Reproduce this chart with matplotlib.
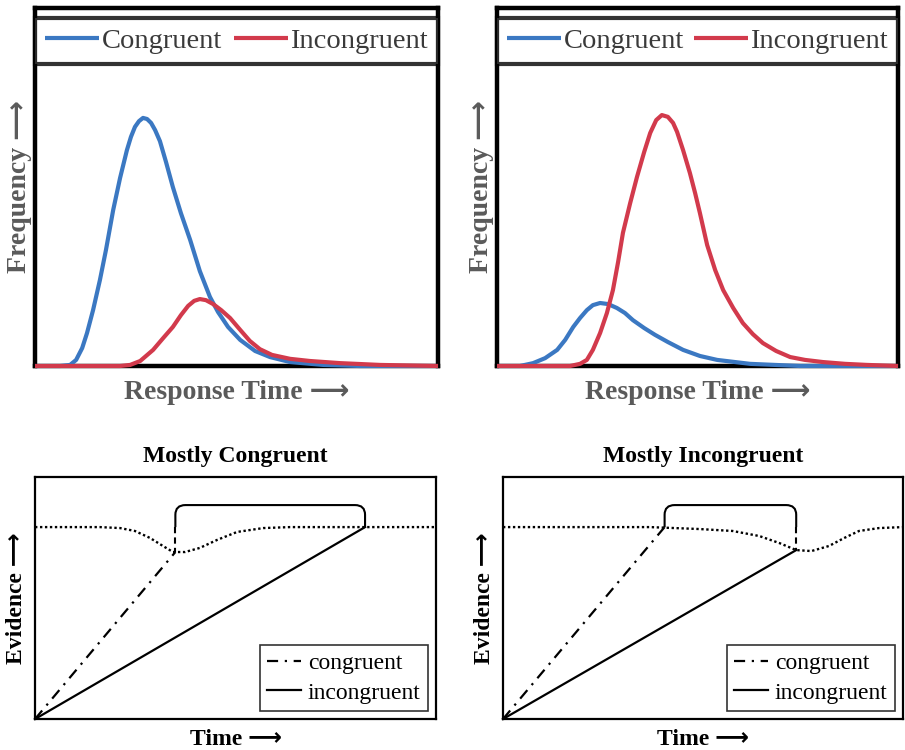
import numpy as np
import matplotlib.pyplot as plt
from matplotlib.path import Path
from matplotlib.patches import PathPatch

# --- data (arbitrary units 0..100) ---
# top-left: mostly congruent RT distributions
tl_cong_x = [0, 6.2, 8.7, 10.2, 11.7, 12.9, 14.4, 16.1, 17.6, 19.4, 21.1, 22.8, 23.8, 24.8, 25.8, 26.8,
             27.8, 28.8, 29.8, 31.0, 32.5, 34.2, 36.2, 38.5, 40.9, 43.4, 45.4, 47.9, 50.9, 54.6, 58.3,
             63.3, 71.5, 80.6, 100]
tl_cong_y = [0, 0, 0.3, 1.7, 5.0, 9.2, 15.6, 24.0, 32.4, 43.6, 52.5, 60.3, 64.0, 66.8, 68.4, 69.3,
             69.0, 67.9, 65.9, 62.8, 57.0, 50.0, 42.7, 35.2, 26.5, 19.3, 15.1, 10.9, 7.3, 4.2, 2.5,
             1.1, 0.3, 0, 0]
tl_inc_x = [0, 21.1, 23.6, 26.1, 29.3, 31.8, 34.2, 36.2, 38.0, 39.5, 40.9, 42.4, 44.2, 46.2, 48.4,
            50.9, 53.3, 55.8, 58.8, 63.3, 68.2, 75.7, 85.6, 100]
tl_inc_y = [0, 0, 0.3, 1.4, 4.5, 7.8, 10.9, 14.2, 16.8, 18.2, 18.7, 18.4, 17.3, 15.6, 13.4,
            10.1, 7.0, 4.7, 3.1, 2.0, 1.4, 0.8, 0.3, 0]

# top-right: mostly incongruent RT distributions
tr_cong_x = [0, 5.7, 9.0, 12.0, 15.0, 17.0, 19.0, 20.7, 22.4, 23.9, 25.7, 27.7, 29.9, 31.9, 33.9,
             36.7, 39.4, 42.6, 46.4, 50.6, 54.9, 63.1, 75.6, 100]
tr_cong_y = [0, 0, 0.8, 2.2, 4.5, 7.3, 10.9, 13.4, 15.6, 17.0, 17.6, 17.3, 16.2, 14.8, 12.8,
             10.6, 8.7, 6.7, 4.5, 2.8, 1.7, 0.6, 0, 0]
tr_inc_x = [0, 18.2, 20.7, 22.4, 23.9, 25.7, 27.4, 28.9, 30.2, 31.4, 33.2, 34.9, 36.7, 38.2, 39.7,
            41.1, 42.6, 43.9, 44.9, 46.4, 48.1, 49.4, 50.6, 52.4, 54.4, 56.4, 58.9, 61.3, 63.8,
            66.3, 69.6, 73.1, 76.8, 81.3, 86.8, 92.3, 100]
tr_inc_y = [0, 0, 0.6, 1.7, 4.5, 9.2, 14.8, 21.2, 29.1, 37.2, 45.5, 52.8, 59.8, 65.1, 68.7,
            70.1, 69.6, 67.9, 65.4, 60.3, 53.9, 48.3, 42.7, 33.8, 26.8, 21.2, 16.2, 12.0, 8.9,
            6.4, 4.2, 2.5, 1.7, 1.1, 0.6, 0.3, 0]

# bottom: accumulator sketches
bl_thr_x = [0, 16.2, 21.2, 24.9, 28.7, 31.9, 34.4, 37.4, 41.1, 45.4, 50.4, 56.9, 63.6, 100]
bl_thr_y = [79.3, 79.3, 78.9, 77.7, 74.8, 71.5, 69.0, 69.0, 70.7, 74.0, 77.3, 78.9, 79.3, 79.3]
bl_cong = ([0, 35.0], [0, 69.0])
bl_inc = ([0, 82.3], [0, 79.3])

br_thr_x = [0, 36.7, 49.1, 57.4, 64.1, 69.1, 73.3, 77.1, 81.5, 85.3, 89.0, 94.0, 100]
br_thr_y = [79.3, 79.3, 78.5, 77.7, 75.6, 72.7, 69.8, 69.4, 71.5, 74.8, 77.7, 78.9, 79.3]
br_cong = ([0, 40.4], [0, 79.3])
br_inc = ([0, 73.3], [0, 69.8])

threshold = 79.3
bracket_top = 88.4

blue = '#3b78c2'
red = '#d23a4c'
gray = '#5a5a5a'
serif = ['Liberation Serif', 'DejaVu Sans']
arrow = '\u27f6'

plt.rcParams['font.family'] = serif

fig = plt.figure(figsize=(9.05, 7.5), dpi=100)
ax_tl = fig.add_axes([0.0387, 0.512, 0.4453, 0.4773])
ax_tr = fig.add_axes([0.5492, 0.512, 0.4431, 0.4773])
ax_bl = fig.add_axes([0.0387, 0.0413, 0.4431, 0.3227])
ax_br = fig.add_axes([0.5558, 0.0413, 0.4420, 0.3227])


def dist_panel(ax, cx, cy, ix, iy):
    ax.plot(cx, cy, color=blue, lw=3, label='Congruent', zorder=3, clip_on=False,
            solid_joinstyle='round', solid_capstyle='butt')
    ax.plot(ix, iy, color=red, lw=3, label='Incongruent', zorder=3, clip_on=False,
            solid_joinstyle='round', solid_capstyle='butt')
    ax.set_xlim(0, 100)
    ax.set_ylim(0, 100)
    ax.set_xticks([])
    ax.set_yticks([])
    for s in ax.spines.values():
        s.set_linewidth(3.2)
    ax.set_xlabel('Response Time ' + arrow, fontsize=20, fontweight='bold', color=gray, labelpad=10)
    ax.set_ylabel('Frequency ' + arrow, fontsize=20, fontweight='bold', color=gray, labelpad=2)
    leg = ax.legend(loc='upper left', bbox_to_anchor=(0, 0.962, 1, 0.01), mode='expand', ncol=2,
                    fontsize=20.5, frameon=True, fancybox=False, borderaxespad=0, borderpad=0.36,
                    handlelength=1.9, handletextpad=0.08, columnspacing=0.2, labelcolor='#3a3a3a')
    leg.get_frame().set_edgecolor('black')
    leg.get_frame().set_linewidth(3)


def bracket(ax, x0, y0, x1, y1):
    # rounded bracket over the gap between the two bound crossings
    rx, ry = 2.5, 4.0
    verts = [(x0, threshold), (x0, bracket_top - ry), (x0, bracket_top), (x0 + rx, bracket_top),
             (x1 - rx, bracket_top), (x1, bracket_top), (x1, bracket_top - ry), (x1, threshold)]
    codes = [Path.MOVETO, Path.LINETO, Path.CURVE3, Path.CURVE3,
             Path.LINETO, Path.CURVE3, Path.CURVE3, Path.LINETO]
    ax.add_patch(PathPatch(Path(verts, codes), fill=False, lw=1.5, color='black'))
    for x, y in [(x0, y0), (x1, y1)]:
        if y < threshold - 0.5:
            ax.plot([x, x], [threshold, y], color='black', lw=1.5, linestyle=(0, (3, 2)))


def accum_panel(ax, title, thr_x, thr_y, cong, inc):
    ax.plot(thr_x, thr_y, color='black', lw=1.7, linestyle=(0, (1, 1.1)))
    ax.plot(cong[0], cong[1], color='black', lw=1.6, linestyle=(0, (5, 3, 1, 3)),
            label='congruent', clip_on=False)
    ax.plot(inc[0], inc[1], color='black', lw=1.6, label='incongruent', clip_on=False)
    bracket(ax, cong[0][-1], cong[1][-1], inc[0][-1], inc[1][-1])
    ax.set_xlim(0, 100)
    ax.set_ylim(0, 100)
    ax.set_xticks([])
    ax.set_yticks([])
    for s in ax.spines.values():
        s.set_linewidth(1.6)
    ax.set_title(title, fontsize=17, fontweight='bold', pad=11)
    ax.set_xlabel('Time ' + arrow, fontsize=17, fontweight='bold', labelpad=7)
    ax.set_ylabel('Evidence ' + arrow, fontsize=17, fontweight='bold', labelpad=6)
    leg = ax.legend(loc='lower right', fontsize=17, frameon=True, fancybox=False,
                    borderaxespad=0.35, borderpad=0.3, labelspacing=0.35,
                    handlelength=1.45, handletextpad=0.3)
    leg.get_frame().set_edgecolor('black')
    leg.get_frame().set_linewidth(1.2)


dist_panel(ax_tl, tl_cong_x, tl_cong_y, tl_inc_x, tl_inc_y)
dist_panel(ax_tr, tr_cong_x, tr_cong_y, tr_inc_x, tr_inc_y)
accum_panel(ax_bl, 'Mostly Congruent', bl_thr_x, bl_thr_y, bl_cong, bl_inc)
accum_panel(ax_br, 'Mostly Incongruent', br_thr_x, br_thr_y, br_cong, br_inc)

fig.savefig('out.png', dpi=100)
